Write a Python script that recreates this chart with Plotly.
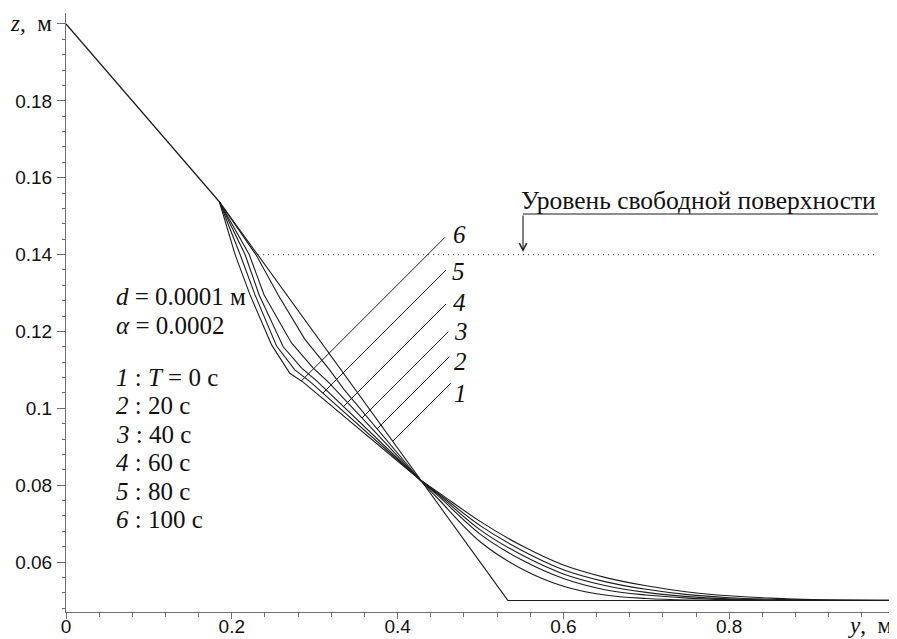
import numpy as np
import plotly.graph_objects as go

# ---------------- data ----------------
LABELS = ["1", "2", "3", "4", "5", "6"]
TIMES = [0, 20, 40, 60, 80, 100]
D_VALUE = "0.0001"
ALPHA_VALUE = "0.0002"
FREE_SURFACE_Z = 0.14
FREE_SURFACE_X = [0.2317, 0.976]

# common upper slope
BED_X = [0.0, 0.185]
BED_Z = [0.2, 0.15375]

# curve 1 (T = 0)
C1_X = [0.185, 0.533, 1.0]
C1_Z = [0.15375, 0.05, 0.05]

# upper (eroded) parts of curves 2..6
UP2_X = [0.185, 0.229, 0.256, 0.288, 0.318, 0.335, 0.427]
UP2_Z = [0.15375, 0.140, 0.1295, 0.1180, 0.1100, 0.1050, 0.0814]
UP3_X = [0.185, 0.221, 0.239, 0.272, 0.298, 0.318, 0.427]
UP3_Z = [0.15375, 0.140, 0.1295, 0.1170, 0.1105, 0.1065, 0.0814]
UP4_X = [0.185, 0.216, 0.233, 0.262, 0.284, 0.303, 0.427]
UP4_Z = [0.15375, 0.140, 0.1295, 0.1160, 0.1105, 0.1070, 0.0814]
UP5_X = [0.185, 0.210, 0.228, 0.254, 0.276, 0.294, 0.427]
UP5_Z = [0.15375, 0.140, 0.1295, 0.1162, 0.1100, 0.1070, 0.0814]
UP6_X = [0.185, 0.204, 0.222, 0.248, 0.270, 0.286, 0.427]
UP6_Z = [0.15375, 0.140, 0.1295, 0.1165, 0.1091, 0.1068, 0.0814]

# lower (deposition) parts of curves 2..6
LOW_X = [0.427, 0.45, 0.50, 0.55, 0.60, 0.65, 0.70, 0.75, 0.80, 0.85, 0.90, 1.0]
LOW2_Z = [0.0814, 0.0762, 0.0652, 0.0582, 0.0537, 0.0514, 0.0505, 0.0501, 0.0500, 0.0500, 0.0500, 0.0500]
LOW3_Z = [0.0814, 0.0770, 0.0672, 0.0605, 0.0557, 0.0528, 0.0514, 0.0506, 0.0502, 0.0500, 0.0500, 0.0500]
LOW4_Z = [0.0814, 0.0774, 0.0683, 0.0618, 0.0569, 0.0539, 0.0521, 0.0510, 0.0504, 0.0501, 0.0500, 0.0500]
LOW5_Z = [0.0814, 0.0777, 0.0694, 0.0630, 0.0580, 0.0549, 0.0529, 0.0515, 0.0507, 0.0503, 0.0501, 0.0500]
LOW6_Z = [0.0814, 0.0780, 0.0705, 0.0642, 0.0592, 0.0560, 0.0538, 0.0522, 0.0512, 0.0506, 0.0502, 0.0500]

X_TICKS = [0.0, 0.2, 0.4, 0.6, 0.8, 1.0]
X_TICKTEXT = ["0", "0.2", "0.4", "0.6", "0.8", ""]
Z_TICKS = [0.06, 0.08, 0.10, 0.12, 0.14, 0.16, 0.18, 0.20]
Z_TICKTEXT = ["0.06", "0.08", "0.1", "0.12", "0.14", "0.16", "0.18", ""]

# ---------------- layout helpers ----------------
BODY = 8                      # default page margin around the plot div
W, H = 897 - BODY, 639 - BODY
ML, MR, MT, MB = 66 - BODY, 2, 13 - BODY, 27
X_RANGE = [0.0, 1.0]
Z_RANGE = [0.04699, 0.20286]
PW = W - ML - MR
PH = H - MT - MB

def paper_x(px):
    return (px - BODY - ML) / PW

def paper_y(py):
    return (H + BODY - MB - py) / PH

def data_x(px):
    return X_RANGE[0] + paper_x(px) * (X_RANGE[1] - X_RANGE[0])

def data_z(py):
    return Z_RANGE[0] + paper_y(py) * (Z_RANGE[1] - Z_RANGE[0])

# slope (in data units) of a 45-degree leader line on screen
LEADER_SLOPE = (PW / (X_RANGE[1] - X_RANGE[0])) / (PH / (Z_RANGE[1] - Z_RANGE[0]))

SERIF = "Liberation Serif"
SANS = "Liberation Sans"
LINE_COLOR = "#1c1c1c"
AXIS_COLOR = "#6e6e6e"
TXT = "#111111"

fig = go.Figure()

def add_line(x, z, shape="linear", width=1.1, color=LINE_COLOR, dash=None):
    fig.add_trace(go.Scatter(x=x, y=z, mode="lines",
                             line=dict(color=color, width=width, shape=shape, dash=dash),
                             hoverinfo="skip", showlegend=False))

add_line(BED_X, BED_Z, width=1.3)
add_line(C1_X, C1_Z)

uppers = [(UP2_X, UP2_Z), (UP3_X, UP3_Z), (UP4_X, UP4_Z), (UP5_X, UP5_Z), (UP6_X, UP6_Z)]
lowers = [LOW2_Z, LOW3_Z, LOW4_Z, LOW5_Z, LOW6_Z]
for (ux, uz), lz in zip(uppers, lowers):
    add_line(ux, uz)
    add_line(LOW_X, lz, shape="spline")

# free surface level (dotted)
fig.add_trace(go.Scatter(x=FREE_SURFACE_X, y=[FREE_SURFACE_Z] * 2, mode="lines",
                         line=dict(color="#555555", width=1.2, dash="1px,4px"),
                         hoverinfo="skip", showlegend=False))

# ---------------- leader lines to curve numbers ----------------
curve_full = [(C1_X, C1_Z)] + [(list(ux) + LOW_X[1:], list(uz) + lz[1:]) for (ux, uz), lz in zip(uppers, lowers)]
LEADER_TOP_PX = [(450.7, 383.3), (449.3, 356.7), (448.3, 331.7), (446.0, 304.0), (446.0, 270.0), (445.0, 237.3)]
LABEL_PX = [(460, 393), (460, 361), (461, 331), (459, 302), (458, 271), (459, 235)]

for k, ((cx, cz), (tx, ty)) in enumerate(zip(curve_full, LEADER_TOP_PX)):
    x0, z0 = data_x(tx), data_z(ty)
    grid = np.linspace(0.186, x0, 6000)
    cur = np.interp(grid, cx, cz)
    lin = z0 - LEADER_SLOPE * (x0 - grid)
    d = lin - cur
    idx = np.where(np.sign(d[:-1]) != np.sign(d[1:]))[0]
    i = idx[-1]
    xe = grid[i] - d[i] * (grid[i + 1] - grid[i]) / (d[i + 1] - d[i])
    ze = z0 - LEADER_SLOPE * (x0 - xe)
    add_line([xe, x0], [ze, z0], width=1.0)
    lx, ly = LABEL_PX[k]
    fig.add_annotation(x=paper_x(lx), y=paper_y(ly), xref="paper", yref="paper",
                       text="<i>%s</i>" % LABELS[k], showarrow=False,
                       xanchor="center", yanchor="middle",
                       font=dict(family=SERIF, size=25, color=TXT))

# ---------------- free-surface caption with arrow ----------------
ARROW_X = data_x(523)
UNDER_Z = data_z(214)
fig.add_shape(type="line", x0=ARROW_X, x1=data_x(878), y0=UNDER_Z, y1=UNDER_Z,
              xref="x", yref="y", line=dict(color=LINE_COLOR, width=1.1))
fig.add_annotation(x=ARROW_X, y=data_z(252), ax=ARROW_X, ay=UNDER_Z,
                   xref="x", yref="y", axref="x", ayref="y",
                   text="", showarrow=True, arrowhead=5, arrowsize=1.3,
                   arrowwidth=1.1, arrowcolor=LINE_COLOR, standoff=0)
fig.add_annotation(x=data_x(878), y=data_z(200), xref="x", yref="y",
                   text="Уровень свободной поверхности", showarrow=False,
                   xanchor="right", yanchor="middle",
                   font=dict(family=SERIF, size=25.5, color=TXT))

# ---------------- parameter / time legend ----------------
legend_lines = ["<i>d</i> = %s м" % D_VALUE, "<i>α</i> = %s" % ALPHA_VALUE]
legend_lines.append("<i>%s</i> : <i>T</i> = %d с" % (LABELS[0], TIMES[0]))
for lab, t in zip(LABELS[1:], TIMES[1:]):
    legend_lines.append("<i>%s</i> : %d с" % (lab, t))
LEGEND_BASELINES = [304, 333, 385, 413.5, 442, 470.5, 499, 527.5]
for txt, base in zip(legend_lines, LEGEND_BASELINES):
    fig.add_annotation(x=paper_x(114), y=paper_y(base - 7.9), xref="paper", yref="paper",
                       text=txt, showarrow=False, xanchor="left", yanchor="middle",
                       font=dict(family=SERIF, size=25, color=TXT))

# axis titles placed like the original (at the ends of the axes)
fig.add_annotation(x=0, xref="paper", xanchor="right", xshift=-12,
                   y=0.2, yref="y", yanchor="middle",
                   text="<i>z</i>,  м", showarrow=False,
                   font=dict(family=SERIF, size=23, color=TXT))
fig.add_annotation(x=1.0, xref="x", xanchor="right", xshift=-1,
                   y=paper_y(633 - 7.6), yref="paper", yanchor="middle",
                   text="<i>y</i>,  м", showarrow=False,
                   font=dict(family=SERIF, size=23, color=TXT))

axis_common = dict(showline=True, linecolor=AXIS_COLOR, linewidth=1, showgrid=False,
                   zeroline=False, ticks="outside", tickcolor=AXIS_COLOR, tickwidth=1,
                   automargin=False,
                   tickfont=dict(family=SANS, size=19, color=TXT))

fig.update_layout(
    width=W, height=H,
    margin=dict(l=ML, r=MR, t=MT, b=MB, pad=0, autoexpand=False),
    paper_bgcolor="white", plot_bgcolor="white",
    showlegend=False,
    xaxis=dict(range=X_RANGE, tickmode="array", tickvals=X_TICKS, ticktext=X_TICKTEXT,
               ticklen=6, ticklabelstandoff=-9,
               minor=dict(dtick=0.04, tick0=0, ticklen=3.5, ticks="outside",
                          tickcolor=AXIS_COLOR, showgrid=False),
               **axis_common),
    yaxis=dict(range=Z_RANGE, tickmode="array", tickvals=Z_TICKS, ticktext=Z_TICKTEXT,
               ticklen=8, ticklabelstandoff=1,
               minor=dict(dtick=0.004, tick0=0, ticklen=3.5, ticks="outside",
                          tickcolor=AXIS_COLOR, showgrid=False),
               **axis_common),
)

fig.write_html("out.html")
